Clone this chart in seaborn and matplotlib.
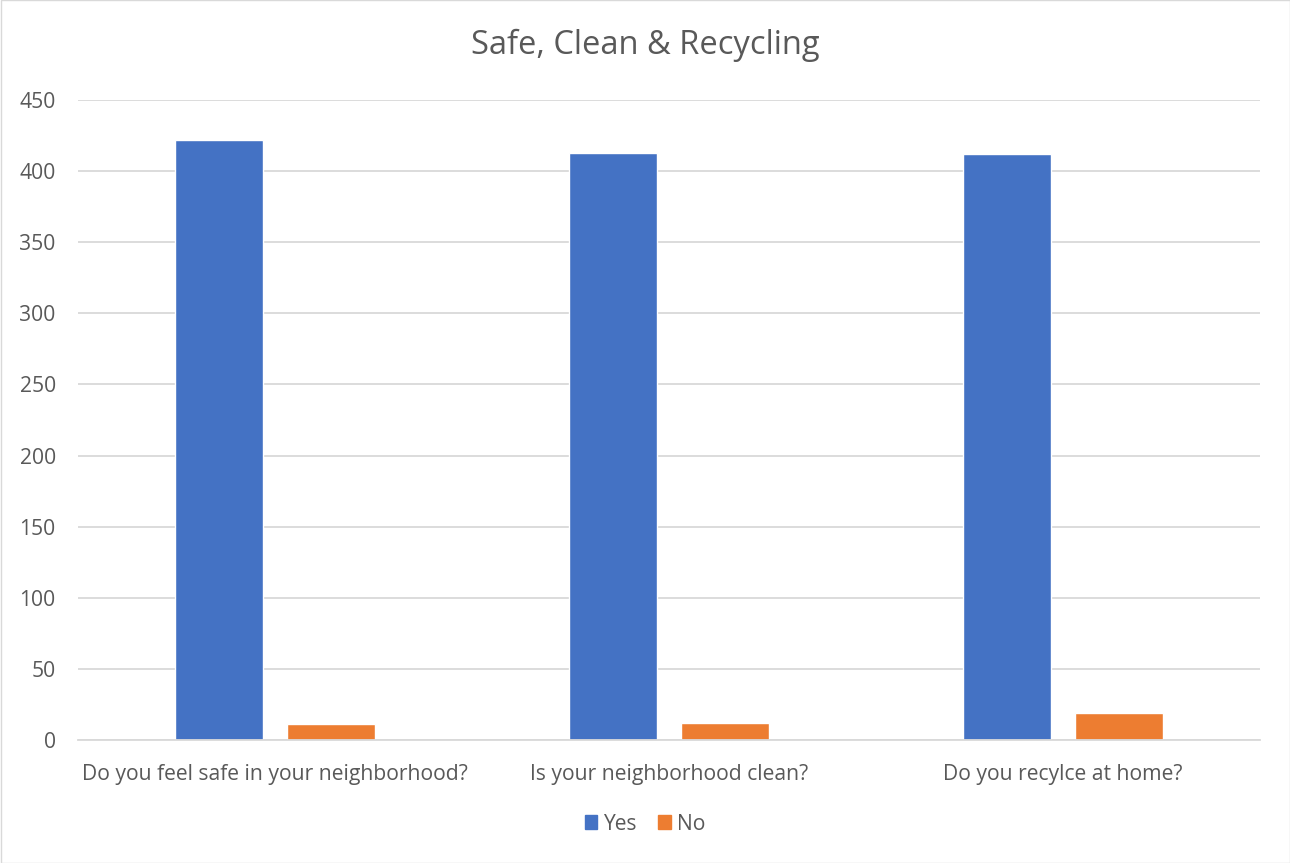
import matplotlib
matplotlib.use("Agg")
import matplotlib.pyplot as plt
import seaborn as sns
import pandas as pd
from matplotlib.patches import Rectangle

categories = ["Do you feel safe in your neighborhood?", "Is your neighborhood clean?", "Do you recylce at home?"]
yes_values = [422, 413, 412]
no_values = [11, 12, 19]
series = ["Yes", "No"]
colors = ["#4472C4", "#ED7D31"]
yticks = [0, 50, 100, 150, 200, 250, 300, 350, 400, 450]

df = pd.DataFrame({
    "Question": categories * 2,
    "Series": ["Yes"] * 3 + ["No"] * 3,
    "Count": yes_values + no_values,
})

sns.set_theme(style="white")
plt.rcParams['font.family'] = ['Open Sans', 'DejaVu Sans']

fig = plt.figure(figsize=(12.9, 8.63), dpi=100)
ax = fig.add_axes([78/1290, 1-740/863, (1260-78)/1290, 640/863])

sns.barplot(data=df, x="Question", y="Count", hue="Series", hue_order=series,
            palette=colors, width=0.5685, gap=0.214, ax=ax, legend=False,
            saturation=1, errorbar=None, order=categories)

ax.set_ylim(0, 450)
ax.set_xlim(-0.5, 2.5)
ax.set_yticks(yticks)
ax.set_yticklabels([str(t) for t in yticks])
ax.yaxis.grid(True, color="#d9d9d9", linewidth=1.3)
ax.set_axisbelow(True)
for s in ["top", "right", "left"]:
    ax.spines[s].set_visible(False)
ax.spines["bottom"].set_color("#d9d9d9")
ax.spines["bottom"].set_linewidth(1.3)
ax.tick_params(axis="both", length=0, labelsize=15.2, labelcolor="#595959")
ax.tick_params(axis="y", pad=16)
ax.tick_params(axis="x", pad=17)
ax.set_xlabel("")
ax.set_ylabel("")

fig.text(0.5, 1-45/863, "Safe, Clean & Recycling", ha="center", va="center",
         fontsize=23.5, color="#595959")

handles = [Rectangle((0, 0), 1, 1, color=c) for c in colors]
fig.legend(handles, series, loc="center", bbox_to_anchor=(0.5, 1-824/863),
           ncol=2, frameon=False, fontsize=15.2, labelcolor="#595959",
           handlelength=0.6, handleheight=0.6, handletextpad=0.3, columnspacing=1.0)

fig.add_artist(Rectangle((0.5/1290, 0.5/863), 1-1/1290, 1-1/863, transform=fig.transFigure,
                         fill=False, edgecolor="#d9d9d9", linewidth=1))

fig.savefig("out.png", dpi=100, facecolor="white")
